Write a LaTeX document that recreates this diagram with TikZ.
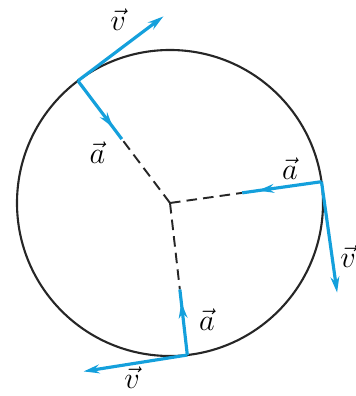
\documentclass[tikz,border=0pt]{standalone}
\usepackage{amsmath}
\usepackage{tikz}
\usetikzlibrary{arrows.meta, calc, decorations.markings}
\definecolor{azulVector}{RGB}{20, 160, 220}

\begin{document}
\begin{tikzpicture}[
            vel/.style={-{Stealth[length=9pt, width=5pt]}, line width=1.8pt, azulVector},
            acel/.style={line width=1.8pt, azulVector, decoration={markings, mark=at position 0.8 with {\arrow{Stealth[length=9pt, width=5pt]}}}, postaction={decorate}},
            radio/.style={dashed, dash pattern=on 6pt off 3.5pt, line width=1.1pt, black!85},
            etiq/.style={font=\LARGE, inner sep=0pt}]

            \useasboundingbox (-3.4,-3.86) rectangle (3.7,4.06);

            \def\R{3.06}
            \coordinate (O) at (0,0);
            \coordinate (P1) at (127:\R);
            \coordinate (P2) at (8:\R);
            \coordinate (P3) at (276.5:\R);

            % ends of the vectors
            \coordinate (v1) at ($(P1)+(37:2.14)$);
            \coordinate (v2) at ($(P2)+(-82:2.24)$);
            \coordinate (v3) at ($(P3)+(189:2.1)$);
            \coordinate (a1) at ($(P1)!1.46cm!(O)$);
            \coordinate (a2) at ($(P2)!1.6cm!(O)$);
            \coordinate (a3) at ($(P3)!1.32cm!(O)$);

            \draw[line width=1.2pt, black!85] (O) circle (\R);

            \draw[radio] (O) -- (a1);
            \draw[radio] (O) -- (a2);
            \draw[radio] (O) -- (a3);

            \draw[acel] (P1) -- (a1);
            \draw[acel] (P2) -- (a2);
            \draw[acel] (P3) -- (a3);

            \draw[vel] (P1) -- (v1);
            \draw[vel] (P2) -- (v2);
            \draw[vel] (P3) -- (v3);

            \node[etiq] (lv1) at (-1.04,3.66) {$\vec{v}$};
            \node[etiq] (la1) at (-1.45,1.0) {$\vec{a}$};
            \node[etiq] (la2) at (2.4,0.68) {$\vec{a}$};
            \node[etiq] (lv2) at (3.56,-1.08) {$\vec{v}$};
            \node[etiq] (la3) at (0.74,-2.34) {$\vec{a}$};
            \node[etiq] (lv3) at (-0.76,-3.5) {$\vec{v}$};
        \end{tikzpicture}
\end{document}
